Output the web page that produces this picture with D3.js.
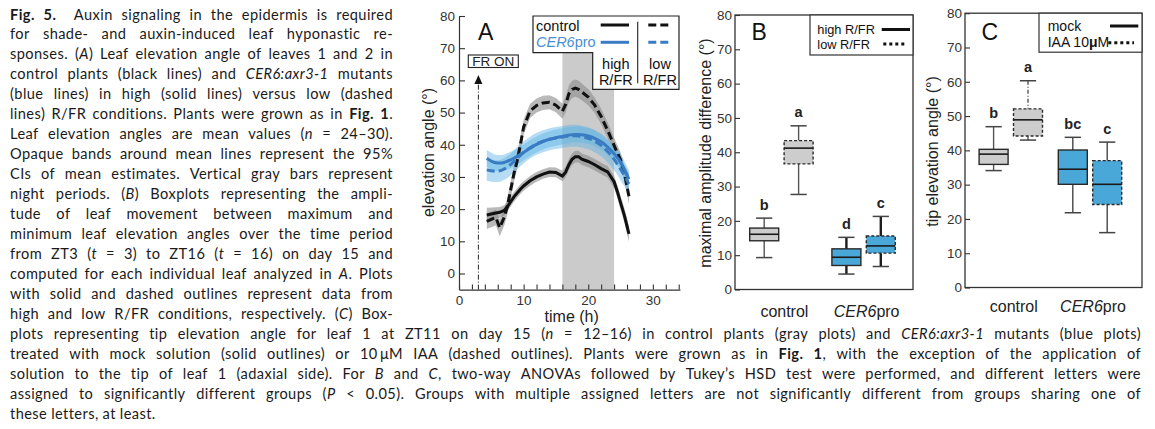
<!DOCTYPE html>
<html>
<head>
<meta charset="utf-8">
<script src="https://cdn.jsdelivr.net/npm/d3@7"></script>
<style>
  body { margin: 0; background: #fff; }
  svg { display: block; }
</style>
</head>
<body>
<svg id="fig" width="1155" height="429"></svg>
<script>
// ---------- data: panel A (leaf elevation angle, mean and 95% CI half-width) ----------
const timeA = [4.3, 5, 5.7, 6.3, 7, 7.5, 8, 8.5, 9, 9.5, 10, 11, 12, 13, 14, 15, 16, 16.5,
  17, 17.5, 18, 18.5, 19, 20, 21, 22, 23, 24, 24.5, 25, 25.6, 26.3];
const ctrlHigh = [18.2, 18.5, 18.8, 19.0, 19.6, 20.8, 22.3, 23.8, 25.0, 26.2, 27.2, 28.8, 30.0, 30.9, 31.5, 31.4, 30.3, 31.5,
  33.8, 35.5, 36.3, 36.3, 35.5, 34.8, 33.8, 32.6, 31.6, 28.5, 25.5, 22.0, 18.0, 12.3];
const ctrlHighCI = [2.2, 2.0, 1.8, 1.7, 1.6, 1.5, 1.5, 1.5, 1.5, 1.5, 1.5, 1.5, 1.5, 1.5, 1.5, 1.5, 1.6, 1.7,
  1.8, 1.8, 1.8, 1.8, 1.8, 1.8, 1.8, 1.8, 1.8, 1.9, 2.0, 2.1, 2.2, 2.4];
const ctrlLow = [16.2, 16.8, 17.4, 14.2, 17.5, 21.0, 26.0, 31.0, 35.0, 40.0, 45.5, 50.5, 52.2, 53.0, 53.2, 52.3, 50.4, 52.5,
  55.8, 57.2, 57.6, 57.2, 56.4, 54.8, 52.3, 48.8, 44.5, 39.8, 37.5, 35.3, 31.0, 24.0];
const ctrlLowCI = [2.4, 2.4, 2.4, 2.6, 2.6, 2.6, 2.6, 2.6, 2.5, 2.4, 2.3, 2.2, 2.2, 2.2, 2.2, 2.2, 2.3, 2.5,
  2.6, 2.7, 2.7, 2.7, 2.6, 2.5, 2.4, 2.4, 2.4, 2.4, 2.4, 2.4, 2.4, 2.5];
const cerHigh = [35.8, 34.9, 34.4, 34.3, 34.5, 34.9, 35.3, 35.8, 36.4, 37.0, 37.6, 38.9, 40.1, 41.0, 41.7, 42.2, 42.6, 42.8,
  43.0, 43.1, 43.2, 43.2, 43.1, 42.7, 42.0, 40.9, 39.3, 37.2, 36.0, 34.6, 32.3, 29.3];
const cerHighCI = [2.6, 2.6, 2.5, 2.5, 2.5, 2.5, 2.5, 2.5, 2.5, 2.5, 2.5, 2.5, 2.5, 2.5, 2.5, 2.5, 2.5, 2.5,
  2.5, 2.5, 2.5, 2.5, 2.5, 2.5, 2.5, 2.5, 2.5, 2.5, 2.5, 2.6, 2.6, 2.7];
const cerLow = [32.2, 31.9, 31.8, 31.9, 32.5, 33.1, 33.9, 34.8, 35.8, 36.7, 37.6, 39.1, 40.3, 41.1, 41.7, 42.1, 42.4, 42.6,
  42.7, 42.8, 42.8, 42.7, 42.5, 42.0, 41.1, 39.8, 37.9, 35.5, 34.0, 32.4, 30.4, 27.8];
const cerLowCI = [3.4, 3.4, 3.4, 3.4, 3.4, 3.4, 3.4, 3.4, 3.4, 3.4, 3.4, 3.4, 3.4, 3.4, 3.4, 3.4, 3.4, 3.4,
  3.4, 3.4, 3.4, 3.4, 3.4, 3.4, 3.4, 3.4, 3.4, 3.4, 3.4, 3.4, 3.4, 3.4];
const nightStart = 16, nightEnd = 24;
const frOnTime = 3;

// ---------- data: panel B (maximal amplitude difference) ----------
const boxGroups = ["control", "CER6pro"];
const ampGroup = ["control", "control", "CER6pro", "CER6pro"];
const ampCond = ["high", "low", "high", "low"];
const ampMin = [9.3, 27.7, 4.5, 6.7];
const ampQ1 = [14.2, 36.6, 7.0, 10.6];
const ampMed = [16.1, 41.2, 9.4, 12.7];
const ampQ3 = [17.9, 43.4, 11.85, 15.6];
const ampMax = [20.8, 47.7, 15.2, 21.3];
const ampLetter = ["b", "a", "d", "c"];

// ---------- data: panel C (tip elevation angle) ----------
const tipGroup = ["control", "control", "CER6pro", "CER6pro"];
const tipCond = ["mock", "IAA", "mock", "IAA"];
const tipMin = [34.1, 43.0, 21.8, 16.0];
const tipQ1 = [35.9, 44.2, 30.1, 24.2];
const tipMed = [38.9, 48.9, 34.5, 30.1];
const tipQ3 = [40.3, 52.1, 40.1, 37.0];
const tipMax = [46.9, 60.3, 43.8, 42.4];
const tipLetter = ["b", "a", "bc", "c"];

const yTicks = [0, 10, 20, 30, 40, 50, 60, 70, 80];

// ---------- caption ----------
const captionLines = [
  "**Fig. 5.**  Auxin signaling in the epidermis is required",
  "for shade- and auxin-induced leaf hyponastic re-",
  "sponses. (*A*) Leaf elevation angle of leaves 1 and 2 in",
  "control plants (black lines) and *CER6:axr3-1* mutants",
  "(blue lines) in high (solid lines) versus low (dashed",
  "lines) R/FR conditions. Plants were grown as in **Fig. 1**.",
  "Leaf elevation angles are mean values (*n* = 24–30).",
  "Opaque bands around mean lines represent the 95%",
  "CIs of mean estimates. Vertical gray bars represent",
  "night periods. (*B*) Boxplots representing the ampli-",
  "tude of leaf movement between maximum and",
  "minimum leaf elevation angles over the time period",
  "from ZT3 (*t* = 3) to ZT16 (*t* = 16) on day 15 and",
  "computed for each individual leaf analyzed in *A*. Plots",
  "with solid and dashed outlines represent data from",
  "high and low R/FR conditions, respectively. (*C*) Box-",
  "plots representing tip elevation angle for leaf 1 at ZT11 on day 15 (*n* = 12–16) in control plants (gray plots) and *CER6:axr3-1* mutants (blue plots)",
  "treated with mock solution (solid outlines) or 10\u2009μM IAA (dashed outlines). Plants were grown as in **Fig. 1**, with the exception of the application of",
  "solution to the tip of leaf 1 (adaxial side). For *B* and *C*, two-way ANOVAs followed by Tukey’s HSD test were performed, and different letters were",
  "assigned to significantly different groups (*P* < 0.05). Groups with multiple assigned letters are not significantly different from groups sharing one of",
  "these letters, at least."
];

const svg = d3.select("#fig");
const chartFont = "'Liberation Sans', Arial, sans-serif";
const capFont = "Lato, 'Open Sans', sans-serif";
const blueLine = "#3a7cc4";
const blueFill = "#4aa8d8";
const grayFill = "#cdcdcd";

// split a marked-up line (**bold**, *italic*) into words made of styled runs
function parseRuns(str) {
  let bold = false, ital = false;
  const words = [[]];
  let i = 0;
  while (i < str.length) {
    if (str.startsWith("**", i)) { bold = !bold; i += 2; continue; }
    if (str[i] === "*") { ital = !ital; i += 1; continue; }
    if (str[i] === " ") { words.push([]); i++; continue; }
    const w = words[words.length - 1];
    const last = w[w.length - 1];
    if (last && last.b === bold && last.i === ital) last.s += str[i];
    else w.push({ s: str[i], b: bold, i: ital });
    i++;
  }
  return words;
}

function drawCaption() {
  const capSize = 14.6;
  const baseSpacing = 0.42;
  const x0 = 10, colW = 383, fullW = 1131;
  const base0 = 19.5, lead = 19.95;
  const minGap = 3.6;
  const g = svg.append("g")
    .attr("font-family", capFont)
    .attr("font-size", capSize)
    .attr("fill", "#1a1a1a");

  captionLines.forEach((str, k) => {
    const words = parseRuns(str);
    const width = k < 16 ? colW : fullW;
    const justify = k < captionLines.length - 1;
    const nodes = words.map((w) => {
      const t = g.append("text").attr("y", base0 + lead * k).attr("letter-spacing", baseSpacing);
      w.forEach((r) =>
        t.append("tspan")
          .attr("font-weight", r.b ? "bold" : null)
          .attr("font-style", r.i ? "italic" : null)
          .text(r.s)
      );
      return t;
    });
    const measure = () => nodes.map((n) => n.node().getComputedTextLength());
    let widths = measure();
    const gaps = nodes.length - 1;
    // tighten letters of a line that would not fit with a minimal gap
    const need = d3.sum(widths) + gaps * minGap;
    if (justify && need > width) {
      const chars = d3.sum(words, (w) => d3.sum(w, (r) => r.s.length));
      const ls = baseSpacing - (need - width) / chars;
      nodes.forEach((n) => n.attr("letter-spacing", ls.toFixed(3)));
      widths = measure();
    }
    const gap = justify ? (width - d3.sum(widths)) / gaps : capSize * 0.27;
    let x = x0;
    nodes.forEach((n, i) => {
      n.attr("x", x);
      x += widths[i] + gap;
    });
  });
}

function styleAxis(g) {
  g.select(".domain").attr("stroke", "#333").attr("stroke-width", 1.2);
  g.selectAll(".tick line").attr("stroke", "#333").attr("stroke-width", 1.1);
  g.selectAll(".tick text")
    .attr("font-family", chartFont)
    .attr("font-size", 13.5)
    .attr("fill", "#333");
}

// ---------- panel A ----------
function drawPanelA() {
  const xA = d3.scaleLinear().domain([0, 34.2]).range([459, 680]);
  const yA = d3.scaleLinear().domain([-5, 80]).range([289.6, 16]);
  const g = svg.append("g");

  g.append("rect")
    .attr("x", xA(nightStart))
    .attr("width", xA(nightEnd) - xA(nightStart))
    .attr("y", yA(80))
    .attr("height", yA(-5) - yA(80))
    .attr("fill", "#cbcbcb");

  const series = [
    { v: ctrlHigh, ci: ctrlHighCI, stroke: "#111", band: "#8a8a8a", bandOp: 0.6, dash: null, curve: d3.curveLinear },
    { v: ctrlLow, ci: ctrlLowCI, stroke: "#111", band: "#8a8a8a", bandOp: 0.6, dash: "8,4", curve: d3.curveLinear },
    { v: cerHigh, ci: cerHighCI, stroke: blueLine, band: "#5db3e4", bandOp: 0.45, dash: null, curve: d3.curveMonotoneX },
    { v: cerLow, ci: cerLowCI, stroke: blueLine, band: "#5db3e4", bandOp: 0.45, dash: "8,4", curve: d3.curveMonotoneX },
  ];

  series.forEach((s) => {
    const area = d3.area()
      .curve(s.curve)
      .x((d, i) => xA(timeA[i]))
      .y0((d, i) => yA(d - s.ci[i]))
      .y1((d, i) => yA(d + s.ci[i]));
    g.append("path").datum(s.v).attr("d", area).attr("fill", s.band).attr("fill-opacity", s.bandOp);
  });

  series.forEach((s) => {
    const line = d3.line()
      .curve(s.curve)
      .x((d, i) => xA(timeA[i]))
      .y((d) => yA(d));
    g.append("path")
      .datum(s.v)
      .attr("d", line)
      .attr("fill", "none")
      .attr("stroke", s.stroke)
      .attr("stroke-width", 3)
      .attr("stroke-dasharray", s.dash);
  });

  // axes (ticks point inward)
  g.append("g")
    .attr("transform", `translate(0,${yA(-5)})`)
    .call(d3.axisBottom(xA).tickValues(d3.range(0, 35, 2))
      .tickFormat((d) => (d % 10 === 0 ? d : ""))
      .tickSizeInner(-5).tickSizeOuter(0).tickPadding(6))
    .call(styleAxis);
  g.append("g")
    .attr("transform", `translate(${xA(0)},0)`)
    .call(d3.axisLeft(yA).tickValues(yTicks).tickSizeInner(-6).tickSizeOuter(0).tickPadding(4))
    .call(styleAxis);

  // FR ON arrow
  const ax = xA(frOnTime);
  g.append("line")
    .attr("x1", ax).attr("x2", ax)
    .attr("y1", yA(-5)).attr("y2", 84)
    .attr("stroke", "#222").attr("stroke-width", 1)
    .attr("stroke-dasharray", "5,2,1,2");
  g.append("path")
    .attr("d", `M${ax},75 L${ax - 4},84 L${ax + 4},84 Z`)
    .attr("fill", "#111");
  g.append("rect")
    .attr("x", 468.3).attr("y", 55).attr("width", 50).attr("height", 12.5)
    .attr("fill", "#fff").attr("stroke", "#222").attr("stroke-width", 1.1);
  g.append("text")
    .attr("x", 493.3).attr("y", 66)
    .attr("text-anchor", "middle")
    .attr("font-family", chartFont).attr("font-size", 13.5).attr("fill", "#222")
    .text("FR ON");

  // legend
  g.append("path")
    .attr("d", "M533,16 H679 V89.3 H592.7 V52.7 H533 Z")
    .attr("fill", "#fff").attr("stroke", "#222").attr("stroke-width", 1.2);
  g.append("line")
    .attr("x1", 637.7).attr("x2", 637.7).attr("y1", 21.7).attr("y2", 83.3)
    .attr("stroke", "#222").attr("stroke-width", 1.1);
  const lg = g.append("g").attr("font-family", chartFont).attr("font-size", 14.5).attr("fill", "#111");
  lg.append("text").attr("x", 536).attr("y", 30.5).text("control");
  const cer = lg.append("text").attr("x", 536).attr("y", 47).attr("fill", "#4a8ed6");
  cer.append("tspan").attr("font-style", "italic").text("CER6");
  cer.append("tspan").text("pro");
  [[25, "#111", null, 600.7], [25, "#111", "8,4", 648.3], [42.3, blueLine, null, 600.7], [42.3, blueLine, "8,4", 648.3]]
    .forEach(([y, c, dash, x1]) => {
      lg.append("line").attr("x1", x1).attr("x2", x1 + (dash ? 24 : 28.3)).attr("y1", y).attr("y2", y)
        .attr("stroke", c).attr("stroke-width", 3).attr("stroke-dasharray", dash);
    });
  [["high", 615.8, 68.5], ["R/FR", 615.8, 85], ["low", 660, 68.5], ["R/FR", 660, 85]].forEach(([t, x, y]) => {
    lg.append("text").attr("x", x).attr("y", y).attr("text-anchor", "middle").text(t);
  });

  g.append("text").attr("x", 478).attr("y", 40)
    .attr("font-family", chartFont).attr("font-size", 23).attr("fill", "#111").text("A");
  g.append("text").attr("x", 571.7).attr("y", 322)
    .attr("text-anchor", "middle")
    .attr("font-family", chartFont).attr("font-size", 16).attr("fill", "#222")
    .text("time (h)");
  g.append("text")
    .attr("transform", "translate(434,152.5) rotate(-90)")
    .attr("text-anchor", "middle")
    .attr("font-family", chartFont).attr("font-size", 16).attr("fill", "#222")
    .text("elevation angle (°)");
}

// ---------- boxplot panels ----------
function drawBoxPanel(o) {
  const y = d3.scaleLinear().domain([0, 80]).range([o.bottom, o.top]);
  const gx = d3.scalePoint().domain(boxGroups).range(o.groupRange);
  const inner = d3.scaleBand().domain(o.conds).range([-31.7, 31.7]).paddingInner(0.157);
  const bw = inner.bandwidth();
  const g = svg.append("g");

  g.append("rect")
    .attr("x", o.left).attr("y", y(80))
    .attr("width", o.right - o.left).attr("height", y(0) - y(80))
    .attr("fill", "none").attr("stroke", "#333").attr("stroke-width", 1.3);

  g.append("g")
    .attr("transform", `translate(${o.left},0)`)
    .call(d3.axisLeft(y).tickValues(yTicks).tickSizeInner(-5).tickSizeOuter(0).tickPadding(3))
    .call(styleAxis)
    .select(".domain").remove();

  o.group.forEach((grp, i) => {
    const cx = gx(grp) + inner(o.cond[i]) + bw / 2;
    const dashed = o.cond[i] === o.conds[1];
    const blue = grp === "CER6pro";
    const wStroke = blue ? o.blueWhisker : { c: "#555", w: 1.4 };
    const wDash = !blue && dashed && o.dashWhisker ? "4,2,1,2" : null;
    const cap = bw * 0.28;

    [[o.max[i], o.q3[i]], [o.q1[i], o.min[i]]].forEach(([a, b]) => {
      g.append("line").attr("x1", cx).attr("x2", cx).attr("y1", y(a)).attr("y2", y(b))
        .attr("stroke", wStroke.c).attr("stroke-width", wStroke.w).attr("stroke-dasharray", wDash);
    });
    [o.max[i], o.min[i]].forEach((v) => {
      g.append("line").attr("x1", cx - cap).attr("x2", cx + cap).attr("y1", y(v)).attr("y2", y(v))
        .attr("stroke", "#444").attr("stroke-width", 1.5);
    });
    g.append("rect")
      .attr("x", cx - bw / 2).attr("width", bw)
      .attr("y", y(o.q3[i])).attr("height", y(o.q1[i]) - y(o.q3[i]))
      .attr("fill", blue ? blueFill : grayFill)
      .attr("stroke", "#2a2a2a").attr("stroke-width", 1.4)
      .attr("stroke-dasharray", dashed ? "3,2" : null);
    g.append("line")
      .attr("x1", cx - bw / 2).attr("x2", cx + bw / 2)
      .attr("y1", y(o.med[i])).attr("y2", y(o.med[i]))
      .attr("stroke", "#1a1a1a").attr("stroke-width", 1.6);
    g.append("text")
      .attr("x", cx).attr("y", y(o.max[i]) - 8.5)
      .attr("text-anchor", "middle")
      .attr("font-family", chartFont).attr("font-size", 14.5).attr("font-weight", "bold").attr("fill", "#222")
      .text(o.letter[i]);
  });

  boxGroups.forEach((grp) => {
    const t = g.append("text")
      .attr("x", gx(grp) + 3).attr("y", o.catY)
      .attr("text-anchor", "middle")
      .attr("font-family", chartFont).attr("font-size", 16).attr("fill", "#222");
    if (grp === "CER6pro") {
      t.append("tspan").attr("font-style", "italic").text("CER6");
      t.append("tspan").text("pro");
    } else t.text(grp);
  });

  g.append("text").attr("x", o.left + 16.5).attr("y", 40)
    .attr("font-family", chartFont).attr("font-size", 23).attr("fill", "#111").text(o.title);
  g.append("text")
    .attr("transform", `translate(${o.yTitleX},${o.yTitleY}) rotate(-90)`)
    .attr("text-anchor", "middle")
    .attr("font-family", chartFont).attr("font-size", 16).attr("fill", "#222")
    .text(o.yTitle);

  // legend
  const L = o.legend;
  g.append("rect")
    .attr("x", L.x).attr("y", y(80)).attr("width", o.right - L.x).attr("height", L.h)
    .attr("fill", "#fff").attr("stroke", "#333").attr("stroke-width", 1.2);
  L.items.forEach((it, k) => {
    const ly = y(80) + L.row0 + k * L.rowGap;
    const t = g.append("text").attr("x", L.x + L.pad).attr("y", ly + 4.5)
      .attr("font-family", chartFont).attr("font-size", L.size).attr("fill", "#111");
    it.label.forEach((r) => t.append("tspan").attr("font-weight", r.b ? "bold" : null).text(r.s));
    g.append("line")
      .attr("x1", L.lineX[k][0]).attr("x2", L.lineX[k][1]).attr("y1", ly).attr("y2", ly)
      .attr("stroke", "#111").attr("stroke-width", 3)
      .attr("stroke-dasharray", k === 1 ? "3,3" : null);
  });
}

drawCaption();
drawPanelA();

drawBoxPanel({
  left: 735, right: 913, top: 15, bottom: 289.5,
  groupRange: [781.4, 863.6],
  conds: ["high", "low"],
  group: ampGroup, cond: ampCond,
  min: ampMin, q1: ampQ1, med: ampMed, q3: ampQ3, max: ampMax, letter: ampLetter,
  blueWhisker: { c: "#1e1e1e", w: 2.4 }, dashWhisker: false,
  catY: 317, title: "B",
  yTitle: "maximal amplitude difference (°)", yTitleX: 711, yTitleY: 153,
  legend: {
    x: 810, h: 40, pad: 7.3, row0: 14.5, rowGap: 14.5, size: 12.8,
    items: [{ label: [{ s: "high R/FR" }] }, { label: [{ s: "low R/FR" }] }],
    lineX: [[881.7, 910], [883.3, 907]],
  },
});

drawBoxPanel({
  left: 965, right: 1142, top: 13.2, bottom: 287.5,
  groupRange: [1010.8, 1090],
  conds: ["mock", "IAA"],
  group: tipGroup, cond: tipCond,
  min: tipMin, q1: tipQ1, med: tipMed, q3: tipQ3, max: tipMax, letter: tipLetter,
  blueWhisker: { c: "#444", w: 1.4 }, dashWhisker: true,
  catY: 312, title: "C",
  yTitle: "tip elevation angle (°)", yTitleX: 937.5, yTitleY: 151.5,
  legend: {
    x: 1039, h: 39, pad: 8.7, row0: 12.8, rowGap: 16.7, size: 14,
    items: [{ label: [{ s: "mock" }] }, { label: [{ s: "IAA 10" }, { s: "μ", b: true }, { s: "M" }] }],
    lineX: [[1110, 1138.3], [1108.3, 1134]],
  },
});
</script>
</body>
</html>
